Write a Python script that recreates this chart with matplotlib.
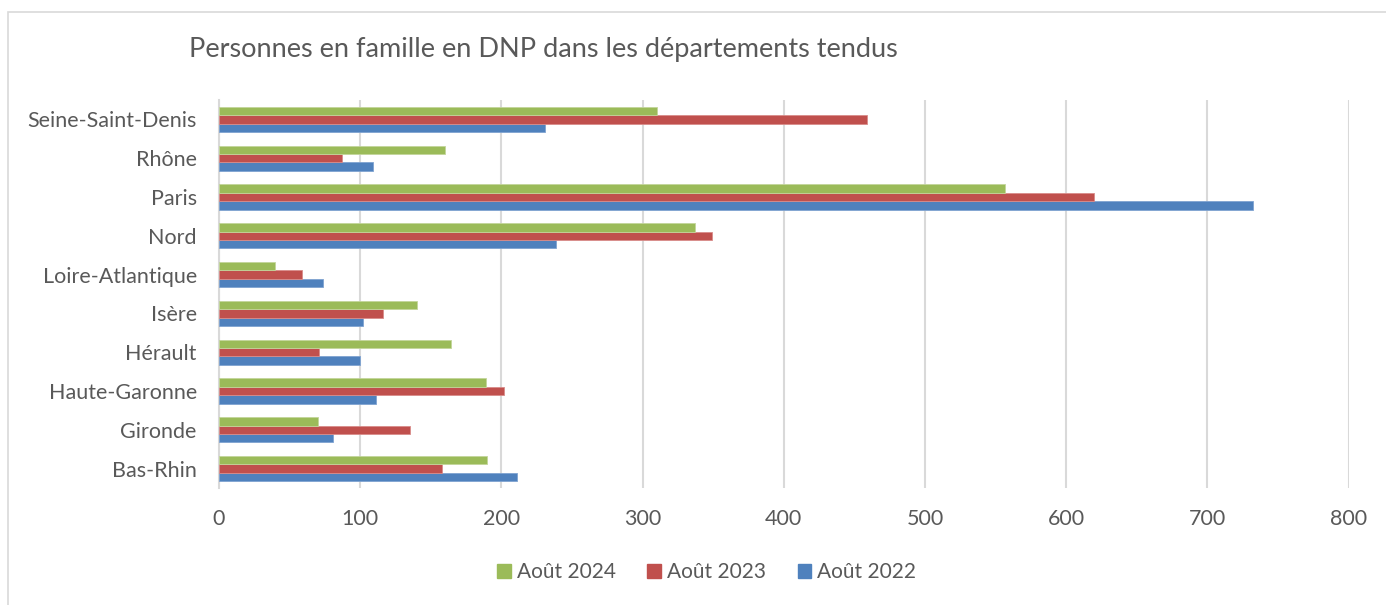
import matplotlib.pyplot as plt
import matplotlib.patches as mpatches
import numpy as np


# ============================================================
# Data
# ============================================================

DEPARTEMENTS = [
    "Bas-Rhin",
    "Gironde",
    "Haute-Garonne",
    "Hérault",
    "Isère",
    "Loire-Atlantique",
    "Nord",
    "Paris",
    "Rhône",
    "Seine-Saint-Denis",
]

AOUT_2022 = [211, 81, 111, 100, 102, 74, 239, 732, 109, 231]
AOUT_2023 = [158, 135, 202, 71, 116, 59, 349, 620, 87, 459]
AOUT_2024 = [190, 70, 189, 164, 140, 40, 337, 557, 160, 310]

SERIES_LABELS = ["Août 2024", "Août 2023", "Août 2022"]

TITLE = "Personnes en famille en DNP dans les départements tendus"
X_TICKS = list(range(0, 801, 100))


# ============================================================
# Style
# ============================================================

BLUE = "#4F81BD"
RED = "#C0504D"
GREEN = "#9BBB59"
TEXT_GREY = "#595959"
GRID_GREY = "#D9D9D9"

plt.rcParams["font.family"] = ["Lato", "DejaVu Sans"]

BAR_H = 0.215


def main():
    fig = plt.figure(figsize=(13.86, 6.05), dpi=100)
    ax = fig.add_axes([0.158, 0.1934, 0.815, 0.6413])

    y = np.arange(len(DEPARTEMENTS))
    ax.barh(y - BAR_H, AOUT_2022, height=BAR_H, color=BLUE,
            edgecolor="#7FA3D1", linewidth=0.6, zorder=3)
    ax.barh(y, AOUT_2023, height=BAR_H, color=RED,
            edgecolor="#D98C8A", linewidth=0.6, zorder=3)
    ax.barh(y + BAR_H, AOUT_2024, height=BAR_H, color=GREEN,
            edgecolor="#C3D69B", linewidth=0.6, zorder=3)

    ax.set_xlim(0, 800)
    ax.set_ylim(-0.5, len(DEPARTEMENTS) - 0.5)
    ax.set_xticks(X_TICKS)
    ax.set_yticks(y)
    ax.set_yticklabels(DEPARTEMENTS)

    ax.tick_params(axis="both", length=0, labelsize=15.5, colors=TEXT_GREY)
    ax.tick_params(axis="y", pad=16)
    ax.tick_params(axis="x", pad=15)

    ax.grid(axis="x", color=GRID_GREY, linewidth=1.5, zorder=0)
    for side in ["top", "right", "bottom"]:
        ax.spines[side].set_visible(False)
    ax.spines["left"].set_color(GRID_GREY)
    ax.spines["left"].set_linewidth(1.5)

    fig.text(0.1364, 0.919, TITLE, ha="left", va="center",
             fontsize=19.5, color=TEXT_GREY)

    handles = [
        mpatches.Patch(color=GREEN, label=SERIES_LABELS[0]),
        mpatches.Patch(color=RED, label=SERIES_LABELS[1]),
        mpatches.Patch(color=BLUE, label=SERIES_LABELS[2]),
    ]
    leg = fig.legend(handles=handles, loc="center", ncol=3,
                     bbox_to_anchor=(0.51, 0.0545), frameon=False,
                     fontsize=15, handlelength=0.65, handleheight=0.65,
                     handletextpad=0.3, columnspacing=1.5)
    for t in leg.get_texts():
        t.set_color(TEXT_GREY)

    # light frame around the chart
    fig.patches.append(mpatches.Rectangle(
        (8 / 1386, -0.01), 1.2, 1 - 12 / 605 + 0.01,
        transform=fig.transFigure, fill=False,
        edgecolor=GRID_GREY, linewidth=1.2))

    fig.savefig("out.png", dpi=100)
    plt.close(fig)


if __name__ == "__main__":
    main()
